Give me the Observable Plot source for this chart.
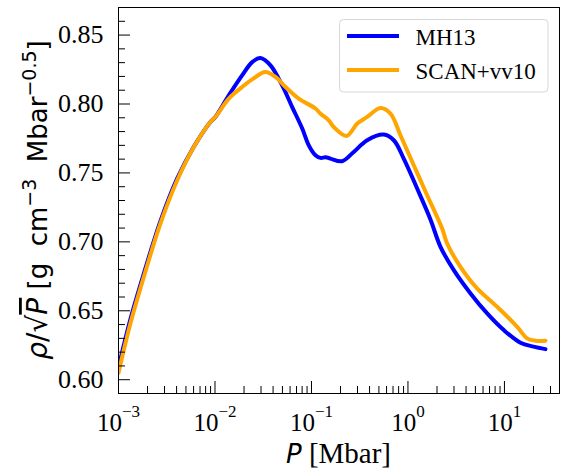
<!DOCTYPE html>
<html><head><meta charset="utf-8">
<script src="https://cdn.jsdelivr.net/npm/d3@7"></script>
<script src="https://cdn.jsdelivr.net/npm/@observablehq/plot@0.6"></script>
<style>body{margin:0;background:#fff;} svg{display:block}</style>
</head><body><div id="chart"></div>
<script>
// ---- data ----
const pMH13 = [0.001,0.00133,0.00183,0.00272,0.00406,0.00603,0.00897,0.0101,0.0139,0.0191,0.0243,0.0296,0.0376,0.0497,0.0631,0.0802,0.0938,0.110,0.124,0.140,0.157,0.208,0.274,0.378,0.561,0.713,0.904,1.245,1.71,2.173,2.985,4.45,6.62,9.84,14.66,20.0,26.6];
const rhoMH13 = [0.609,0.644,0.677,0.715,0.746,0.769,0.787,0.7906,0.8063,0.8208,0.8304,0.8333,0.828,0.8135,0.7978,0.7822,0.770,0.7628,0.7609,0.7614,0.7604,0.7585,0.7652,0.7737,0.7778,0.7737,0.7604,0.7387,0.7163,0.6964,0.6795,0.6626,0.6481,0.6360,0.6268,0.6240,0.6222];
const pSCAN = [0.001,0.00133,0.00183,0.00272,0.00406,0.00603,0.00897,0.0101,0.0139,0.0191,0.0249,0.0333,0.0424,0.0538,0.0738,0.110,0.124,0.151,0.170,0.231,0.298,0.378,0.519,0.659,0.836,1.148,1.581,2.26,2.547,3.50,5.21,8.39,13.55,17.18,20.94,26.6];
const rhoSCAN = [0.605,0.6409,0.6746,0.7133,0.7447,0.7688,0.787,0.7906,0.8039,0.8123,0.8184,0.8232,0.8196,0.8123,0.8039,0.7967,0.7930,0.7882,0.7833,0.7768,0.7858,0.7906,0.7971,0.7930,0.7773,0.7556,0.7338,0.7097,0.6988,0.6819,0.6662,0.6529,0.6384,0.6300,0.6283,0.6283];
const seriesNames = ["MH13","SCAN+vv10"];
const seriesColors = ["#0000ff","#ffa500"];
const xMajor = [1e-3,1e-2,1e-1,1,10];
const xTickLabels = ["10^\u22123","10^\u22122","10^\u22121","10^0","10^1"];
const xMinor = [2e-3,3e-3,4e-3,5e-3,6e-3,7e-3,8e-3,9e-3,2e-2,3e-2,4e-2,5e-2,6e-2,7e-2,8e-2,9e-2,0.2,0.3,0.4,0.5,0.6,0.7,0.8,0.9,2,3,4,5,6,7,8,9,20,30];
const yMajor = [0.60,0.65,0.70,0.75,0.80,0.85];
const yTickLabels = ["0.60","0.65","0.70","0.75","0.80","0.85"];
const yMinor = [0.59,0.61,0.62,0.63,0.64,0.66,0.67,0.68,0.69,0.71,0.72,0.73,0.74,0.76,0.77,0.78,0.79,0.81,0.82,0.83,0.84,0.86,0.87];

// ---- layout ----
const W = 561, H = 469, mL = 118, mR = 2, mT = 7, mB = 76;
const pw = W - mL - mR, ph = H - mT - mB;
const serif = "Liberation Serif";

const data = [
  ...pMH13.map((p, i) => ({series: seriesNames[0], P: p, v: rhoMH13[i]})),
  ...pSCAN.map((p, i) => ({series: seriesNames[1], P: p, v: rhoSCAN[i]}))
];

const svg = Plot.plot({
  width: W, height: H,
  marginLeft: mL, marginRight: mR, marginTop: mT, marginBottom: mB,
  style: {background: "#fff", fontFamily: serif, color: "black"},
  x: {type: "log", domain: [1e-3, 37.2], axis: null},
  y: {domain: [0.59, 0.87], axis: null},
  color: {domain: seriesNames, range: seriesColors},
  marks: [
    Plot.line(data, {x: "P", y: "v", z: "series", stroke: "series", strokeWidth: 4, curve: "catmull-rom", clip: true}),
    Plot.tickY(yMajor, {y: d => d, stroke: "black", strokeWidth: 1, insetRight: pw - 12}),
    Plot.tickY(yMinor, {y: d => d, stroke: "black", strokeWidth: 1, insetRight: pw - 7}),
    Plot.tickX(xMajor, {x: d => d, stroke: "black", strokeWidth: 1, insetTop: ph - 12}),
    Plot.tickX(xMinor, {x: d => d, stroke: "black", strokeWidth: 1, insetTop: ph - 7}),
    Plot.text(xMajor, {x: d => d, frameAnchor: "bottom", dy: 29, text: (d, i) => xTickLabels[i],
      fontSize: 25, fontFamily: serif, fill: "black", textAnchor: "middle", lineAnchor: "middle"}),
    Plot.text(yMajor, {y: d => d, frameAnchor: "left", dx: -15, text: (d, i) => yTickLabels[i],
      fontSize: 26, fontFamily: serif, fill: "black", textAnchor: "end", lineAnchor: "middle"}),
    Plot.frame({stroke: "black", strokeWidth: 1})
  ]
});

const s = d3.select(svg);
// superscripts on x tick labels
s.selectAll("text").each(function() {
  const t = this.textContent;
  if (t.indexOf("^") < 0) return;
  const parts = t.split("^");
  const el = d3.select(this);
  el.selectAll("*").remove();
  el.text(null);
  el.append("tspan").text(parts[0]);
  el.append("tspan").attr("dy", -14).attr("font-size", 17).text(parts[1]);
});

// x label
const xl = s.append("text")
  .attr("x", mL + pw / 2).attr("y", 463)
  .attr("text-anchor", "middle").attr("fill", "black");
xl.append("tspan").attr("font-family", "DejaVu Sans").attr("font-style", "italic").attr("font-size", 26).text("P");
xl.append("tspan").attr("font-family", serif).attr("font-size", 29).text(" [Mbar]");

// y label
const yl = s.append("text")
  .attr("transform", `translate(47,${mT + ph / 2}) rotate(-90)`)
  .attr("text-anchor", "middle").attr("fill", "black")
  .attr("font-family", "DejaVu Sans").attr("font-size", 26);
yl.append("tspan").attr("font-style", "italic").attr("font-size", 28).text("\u03C1");
yl.append("tspan").attr("font-size", 28).text("/\u221A");
yl.append("tspan").attr("font-style", "italic").attr("font-size", 28).style("text-decoration", "overline").text("P");
yl.append("tspan").text(" [g  cm");
yl.append("tspan").attr("dy", -11).attr("font-size", 19).text("\u22123");
yl.append("tspan").attr("dy", 11).text("  Mbar");
yl.append("tspan").attr("dy", -11).attr("font-size", 19).text("\u22120.5");
yl.append("tspan").attr("dy", 11).text("]");

// legend
const lg = s.append("g");
lg.append("rect").attr("x", 339.5).attr("y", 19.5).attr("width", 208.5).attr("height", 72.5)
  .attr("rx", 4).attr("fill", "white").attr("fill-opacity", 0.8).attr("stroke", "#d6d6d6").attr("stroke-width", 1);
seriesNames.forEach((name, i) => {
  const yy = 36 + i * 34;
  lg.append("line").attr("x1", 347).attr("x2", 399).attr("y1", yy).attr("y2", yy)
    .attr("stroke", seriesColors[i]).attr("stroke-width", 4);
  lg.append("text").attr("x", 415.5).attr("y", yy + 8.5).attr("text-anchor", "start")
    .attr("font-family", serif).attr("font-size", 23).attr("fill", "black").text(name);
});

document.getElementById("chart").appendChild(svg);
</script>
</body></html>
